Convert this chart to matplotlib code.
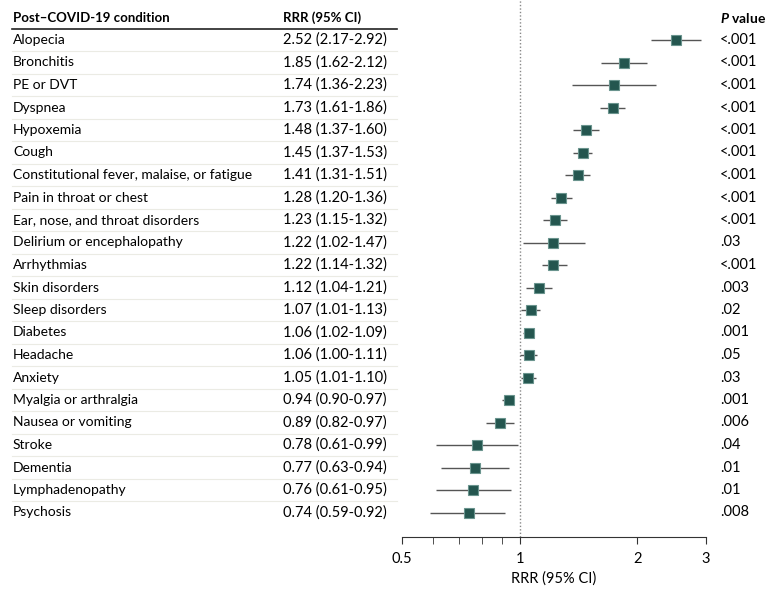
import numpy as np
import matplotlib.pyplot as plt
import matplotlib.transforms as mtransforms
from matplotlib.ticker import FixedLocator, NullFormatter

conditions = ["Alopecia", "Bronchitis", "PE or DVT", "Dyspnea", "Hypoxemia", "Cough",
              "Constitutional fever, malaise, or fatigue", "Pain in throat or chest",
              "Ear, nose, and throat disorders", "Delirium or encephalopathy", "Arrhythmias",
              "Skin disorders", "Sleep disorders", "Diabetes", "Headache", "Anxiety",
              "Myalgia or arthralgia", "Nausea or vomiting", "Stroke", "Dementia",
              "Lymphadenopathy", "Psychosis"]
rrr = [2.52, 1.85, 1.74, 1.73, 1.48, 1.45, 1.41, 1.28, 1.23, 1.22, 1.22,
       1.12, 1.07, 1.06, 1.06, 1.05, 0.94, 0.89, 0.78, 0.77, 0.76, 0.74]
ci_low = [2.17, 1.62, 1.36, 1.61, 1.37, 1.37, 1.31, 1.20, 1.15, 1.02, 1.14,
          1.04, 1.01, 1.02, 1.00, 1.01, 0.90, 0.82, 0.61, 0.63, 0.61, 0.59]
ci_high = [2.92, 2.12, 2.23, 1.86, 1.60, 1.53, 1.51, 1.36, 1.32, 1.47, 1.32,
           1.21, 1.13, 1.09, 1.11, 1.10, 0.97, 0.97, 0.99, 0.94, 0.95, 0.92]
p_values = ["<.001", "<.001", "<.001", "<.001", "<.001", "<.001", "<.001", "<.001",
            "<.001", ".03", "<.001", ".003", ".02", ".001", ".05", ".03", ".001",
            ".006", ".04", ".01", ".01", ".008"]

plt.rcParams['font.family'] = ['Lato', 'DejaVu Sans']
plt.rcParams['mathtext.fontset'] = 'custom'
plt.rcParams['mathtext.bfit'] = 'Lato:italic:bold'
fs = 10
fs_num = 10.5
fs_head = 9.5

fig = plt.figure(figsize=(7.8, 5.93), dpi=100)
ax = fig.add_axes([402 / 780, 1 - 537 / 593, 304 / 780, 537 / 593])

n = len(conditions)
y = np.arange(n)
row_h = 22.5
ax.set_ylim(497 / row_h, -40 / row_h)
ax.set_xscale("log")
ax.set_xlim(0.5, 3)

ax.axvline(1, color="#888888", lw=1, ls=(0, (1, 1.5)), zorder=1)
ax.hlines(y, ci_low, ci_high, color="#555555", lw=1, zorder=2)
ax.plot(rrr, y, "s", ms=6.8, mfc="#24564f", mec="#6a948e", mew=0.8, zorder=3)

for s in ["top", "right", "left"]:
    ax.spines[s].set_visible(False)
ax.spines["bottom"].set_color("#333333")
ax.set_yticks([])
ax.xaxis.set_major_locator(FixedLocator([0.5, 1, 2, 3]))
ax.xaxis.set_minor_locator(FixedLocator([0.6, 0.7, 0.8, 0.9]))
ax.xaxis.set_minor_formatter(NullFormatter())
ax.set_xticklabels(["0.5", "1", "2", "3"])
ax.tick_params(axis="x", which="both", length=5, color="#333333", labelsize=fs_num, pad=6)
ax.set_xlabel("RRR (95% CI)", fontsize=fs_num, labelpad=4)

# table text on the left and p values on the right
trans = mtransforms.blended_transform_factory(fig.transFigure, ax.transData)
x_cond = 13 / 780
x_rrr = 283 / 780
x_p = 720 / 780
for i in range(n):
    ax.text(x_cond, i, conditions[i], transform=trans, fontsize=fs, va="center", clip_on=False)
    ax.text(x_rrr, i, f"{rrr[i]:.2f} ({ci_low[i]:.2f}-{ci_high[i]:.2f})", transform=trans,
            fontsize=fs_num, va="center", clip_on=False)
    ax.text(x_p, i, p_values[i], transform=trans, fontsize=fs_num, va="center", clip_on=False)

hy = -22 / row_h
ax.text(x_cond, hy, "Post\u2013COVID-19 condition", transform=trans, fontsize=fs_head,
        fontweight="bold", va="center", clip_on=False)
ax.text(x_rrr, hy, "RRR (95% CI)", transform=trans, fontsize=fs_head,
        fontweight="bold", va="center", clip_on=False)
ax.text(x_p, hy, r"$\bfit{P}$ value", transform=trans, fontsize=fs_head + 0.5,
        fontweight="bold", va="center", clip_on=False)

# header rule and faint row separators
ax.plot([12 / 780, 397 / 780], [-0.5, -0.5], transform=trans, color="#222222", lw=1.2, clip_on=False)
for i in range(n - 1):
    ax.plot([12 / 780, 397 / 780], [i + 0.5, i + 0.5], transform=trans, color="#ebebe4",
            lw=0.8, clip_on=False)

fig.savefig("out.png", dpi=100)
